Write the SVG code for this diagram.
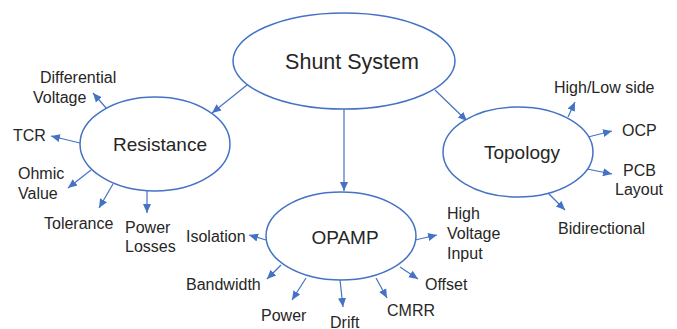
<svg xmlns="http://www.w3.org/2000/svg" width="677" height="329" viewBox="0 0 677 329">
<style>
.n{fill:#fff;stroke:#4472C4;stroke-width:1.5}
.c line{stroke:#4472C4;stroke-width:1.2;marker-end:url(#ah)}
text{font-family:"Liberation Sans",Arial,sans-serif;fill:#262626}
.m{font-size:19px;text-anchor:middle}
.l{font-size:16px}
</style>
<defs>
<marker id="ah" markerUnits="userSpaceOnUse" markerWidth="10" markerHeight="10" refX="9" refY="5" orient="auto">
<path d="M0,1 L9,5 L0,9 Z" fill="#4472C4"/>
</marker>
</defs>
<rect width="677" height="329" fill="#fff"/>
<g class="c" id="connectors">
<line x1="247" y1="85" x2="212" y2="113"/>
<line x1="344" y1="109" x2="344" y2="191"/>
<line x1="435" y1="90" x2="467" y2="121"/>
<line x1="107" y1="109" x2="93" y2="93"/>
<line x1="80" y1="143" x2="51" y2="136"/>
<line x1="91" y1="170" x2="68" y2="188"/>
<line x1="113" y1="184" x2="99" y2="208"/>
<line x1="147" y1="190" x2="147" y2="213"/>
<line x1="266" y1="240" x2="249" y2="235"/>
<line x1="415" y1="240" x2="437" y2="235"/>
<line x1="281" y1="265" x2="267" y2="279"/>
<line x1="306" y1="278" x2="292" y2="300"/>
<line x1="340" y1="280" x2="343" y2="307"/>
<line x1="376" y1="278" x2="387" y2="298"/>
<line x1="400" y1="267" x2="418" y2="279"/>
<line x1="568" y1="117" x2="575" y2="102"/>
<line x1="588" y1="137" x2="612" y2="131"/>
<line x1="587" y1="169" x2="612" y2="174"/>
<line x1="548" y1="193" x2="565" y2="210"/>
</g>
<g id="shunt"><ellipse class="n" cx="344" cy="61" rx="111" ry="48"/><text class="m" x="352" y="68.5" style="font-size:21.5px">Shunt System</text></g>
<g id="resistance"><ellipse class="n" cx="155" cy="144" rx="75" ry="47"/><text class="m" x="160" y="150.5">Resistance</text></g>
<g id="opamp"><ellipse class="n" cx="341" cy="236" rx="75" ry="44"/><text class="m" x="345" y="243.5">OPAMP</text></g>
<g id="topology"><ellipse class="n" cx="518" cy="152" rx="75" ry="45"/><text class="m" x="522" y="158.5">Topology</text></g>
<g id="differential-voltage"><text class="l" x="40" y="82.5">Differential</text><text class="l" x="33" y="102.5">Voltage</text></g>
<g id="tcr"><text class="l" x="13" y="140.5">TCR</text></g>
<g id="ohmic-value"><text class="l" x="18" y="178.5">Ohmic</text><text class="l" x="18" y="198.5">Value</text></g>
<g id="tolerance"><text class="l" x="44" y="228.5">Tolerance</text></g>
<g id="power-losses"><text class="l" x="125" y="232.5">Power</text><text class="l" x="125" y="251.5">Losses</text></g>
<g id="isolation"><text class="l" x="186" y="241.5">Isolation</text></g>
<g id="high-voltage-input"><text class="l" x="447" y="218.5">High</text><text class="l" x="447" y="238.5">Voltage</text><text class="l" x="447" y="258.5">Input</text></g>
<g id="bandwidth"><text class="l" x="186" y="289.5">Bandwidth</text></g>
<g id="power"><text class="l" x="261" y="320.5">Power</text></g>
<g id="drift"><text class="l" x="330" y="328">Drift</text></g>
<g id="cmrr"><text class="l" x="387" y="315.5">CMRR</text></g>
<g id="offset"><text class="l" x="425" y="289.5">Offset</text></g>
<g id="high-low-side"><text class="l" x="554" y="92.5">High/Low side</text></g>
<g id="ocp"><text class="l" x="622" y="135.5">OCP</text></g>
<g id="pcb-layout"><text class="l" x="623" y="175.5">PCB</text><text class="l" x="615" y="194.5">Layout</text></g>
<g id="bidirectional"><text class="l" x="558" y="233.5">Bidirectional</text></g>
</svg>
